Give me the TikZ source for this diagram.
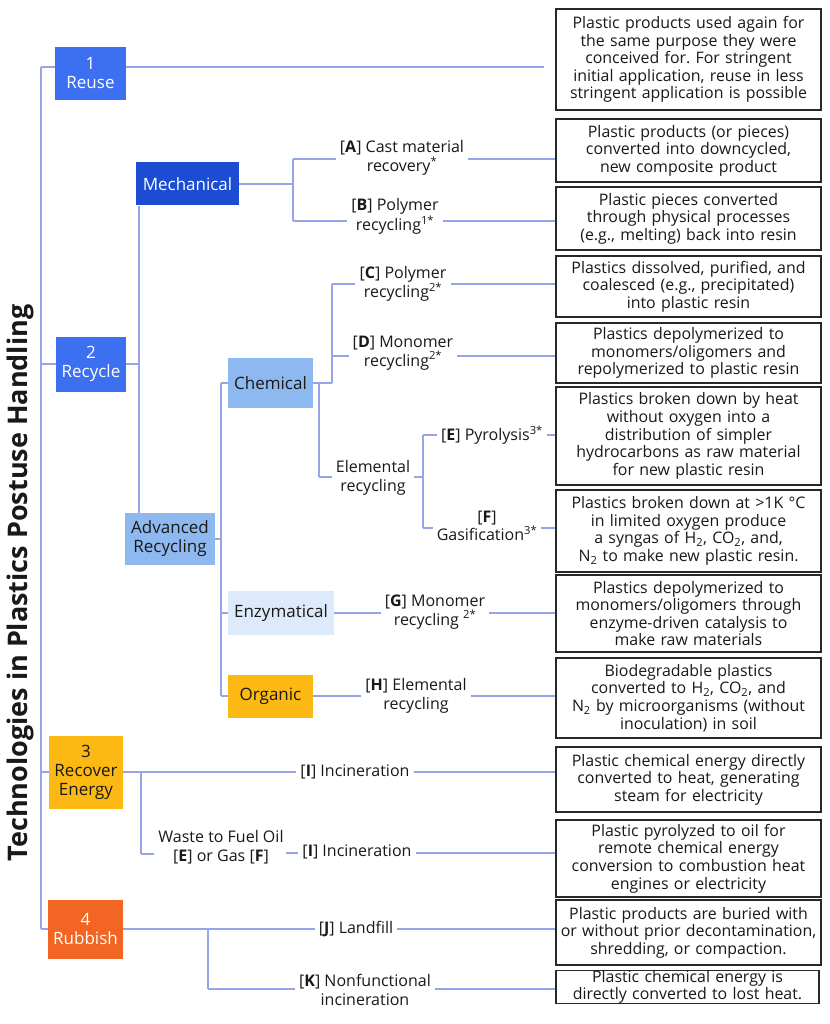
\documentclass[tikz,border=0pt]{standalone}
\usepackage{fontspec}
\setmainfont{Open Sans}
\usepackage{xcolor}
\usepackage{tikz}
\usetikzlibrary{positioning, calc}
\definecolor{PPBlue}{RGB}{61, 112, 240}
\definecolor{PPDeepBlue}{RGB}{27, 76, 209}
\definecolor{PPSky}{RGB}{141, 184, 240}
\definecolor{PPIce}{RGB}{221, 234, 251}
\definecolor{PPAmber}{RGB}{253, 185, 19}
\definecolor{PPOrange}{RGB}{242, 101, 34}
\definecolor{PPLink}{RGB}{152, 164, 232}
\definecolor{PPBorder}{RGB}{40, 40, 40}
\definecolor{PPText}{RGB}{25, 25, 25}
\frenchspacing

\begin{document}
\begin{tikzpicture}[x=1pt,y=-1pt,
  link/.style={PPLink, line width=1.6pt},
  descbox/.style={draw=PPBorder, line width=1.1pt, align=center, inner sep=0pt,
    minimum width=265pt, text width=262pt, text=PPText,
    font=\fontsize{15.9}{17.6}\selectfont},
  catbox/.style={align=center, inner sep=0pt, font=\fontsize{17}{19}\selectfont},
  lbl/.style={align=center, inner sep=4pt, text=PPText, font=\fontsize{16}{18.5}\selectfont}]
  \path[use as bounding box] (0,0) rectangle (829,1024);
  \fill[white] (0,0) rectangle (829,1024);

  \node[rotate=90, text=PPText, font=\fontsize{27}{31}\selectfont\bfseries] (title) at (20,583)
    {Technologies in Plastics Postuse Handling};

  % categories
  \node[catbox, fill=PPBlue, text=white, minimum width=71pt, minimum height=53pt] (reuse) at (90.5,73.5) {1\\Reuse};
  \node[catbox, fill=PPBlue, text=white, minimum width=70pt, minimum height=55pt] (recyc) at (91,364) {2\\Recycle};
  \node[catbox, fill=PPAmber, text=PPText, minimum width=74pt, minimum height=73pt] (recov) at (86,772) {3\\Recover\\Energy};
  \node[catbox, fill=PPOrange, text=white, minimum width=75pt, minimum height=59pt] (rubb) at (85.5,929) {4\\Rubbish};
  \node[catbox, fill=PPDeepBlue, text=white, minimum width=103pt, minimum height=43pt] (mech) at (187.5,184) {Mechanical};
  \node[catbox, fill=PPSky, text=PPText, minimum width=90pt, minimum height=52pt] (adv) at (170,539) {Advanced\\Recycling};
  \node[catbox, fill=PPSky, text=PPText, minimum width=85pt, minimum height=50pt] (chem) at (270.5,383) {Chemical};
  \node[catbox, fill=PPIce, text=PPText, minimum width=106pt, minimum height=44pt] (enz) at (281,613) {Enzymatical};
  \node[catbox, fill=PPAmber, text=PPText, minimum width=85pt, minimum height=43pt] (org) at (270.5,696) {Organic};

  % process labels
  \node[lbl] (lA) at (402,158) {[\textbf{A}] Cast material\\recovery\textsuperscript{*}};
  \node[lbl] (lB) at (395,216.5) {[\textbf{B}] Polymer\\recycling\textsuperscript{1*}};
  \node[lbl] (lC) at (403,284) {[\textbf{C}] Polymer\\recycling\textsuperscript{2*}};
  \node[lbl] (lD) at (403,353) {[\textbf{D}] Monomer\\recycling\textsuperscript{2*}};
  \node[lbl] (lEl) at (373,478) {Elemental\\recycling};
  \node[lbl] (lE) at (492,435) {[\textbf{E}] Pyrolysis\textsuperscript{3*}};
  \node[lbl] (lF) at (487,526) {[\textbf{F}]\\Gasification\textsuperscript{3*}};
  \node[lbl] (lG) at (435,612) {[\textbf{G}] Monomer\\recycling \textsuperscript{2*}};
  \node[lbl] (lH) at (416,696) {[\textbf{H}] Elemental\\recycling};
  \node[lbl] (lI) at (355,772) {[\textbf{I}] Incineration};
  \node[lbl] (lW) at (221,847) {Waste to Fuel Oil\\[0pt][\textbf{E}] or Gas [\textbf{F}]};
  \node[lbl] (lIb) at (357,852) {[\textbf{I}] Incineration};
  \node[lbl] (lJ) at (356,929) {[\textbf{J}] Landfill};
  \node[lbl] (lK) at (365,990) {[\textbf{K}] Nonfunctional\\incineration};

  % descriptions
  \node[descbox, minimum height=101pt] (d1) at (688.5,59.5) {Plastic products used again for\\the same purpose they were\\conceived for. For stringent\\initial application, reuse in less\\stringent application is possible};
  \node[descbox, minimum height=63pt] (dA) at (688.5,150.5) {Plastic products (or pieces)\\converted into downcycled,\\new composite product};
  \node[descbox, minimum height=63pt] (dB) at (688.5,218.5) {Plastic pieces converted\\through physical processes\\(e.g., melting) back into resin};
  \node[descbox, minimum height=61pt] (dC) at (688.5,286.5) {Plastics dissolved, purified, and\\coalesced (e.g., precipitated)\\into plastic resin};
  \node[descbox, minimum height=60pt] (dD) at (688.5,353) {Plastics depolymerized to\\monomers/oligomers and\\repolymerized to plastic resin};
  \node[descbox, minimum height=98pt] (dE) at (688.5,436) {Plastics broken down by heat\\without oxygen into a\\distribution of simpler\\hydrocarbons as raw material\\for new plastic resin};
  \node[descbox, minimum height=82pt] (dF) at (688.5,531) {Plastics broken down at >1K °C\\in limited oxygen produce\\a syngas of H\textsubscript{2}, CO\textsubscript{2}, and,\\N\textsubscript{2} to make new plastic resin.};
  \node[descbox, minimum height=77pt] (dG) at (688.5,613.5) {Plastics depolymerized to\\monomers/oligomers through\\enzyme-driven catalysis to\\make raw materials};
  \node[descbox, minimum height=80pt] (dH) at (688.5,698) {Biodegradable plastics\\converted to H\textsubscript{2}, CO\textsubscript{2}, and\\N\textsubscript{2} by microorganisms (without\\inoculation) in soil};
  \node[descbox, minimum height=65pt] (dI) at (688.5,779.5) {Plastic chemical energy directly\\converted to heat, generating\\steam for electricity};
  \node[descbox, minimum height=77pt] (dIb) at (688.5,858.5) {Plastic pyrolyzed to oil for\\remote chemical energy\\conversion to combustion heat\\engines or electricity};
  \node[descbox, minimum height=65pt] (dJ) at (688.5,932.5) {Plastic products are buried with\\or without prior decontamination,\\shredding, or compaction.};
  \node[descbox, minimum height=33pt, minimum width=263pt] (dK) at (687.5,987) {Plastic chemical energy is\\directly converted to lost heat.};

  % junctions
  \coordinate (trTop) at (41,67);
  \coordinate (jRec) at (139,364);
  \coordinate (jMech) at (293,184);
  \coordinate (jChem) at (332,383);
  \coordinate (jEl) at (319,477);
  \coordinate (jElR) at (423,477);
  \coordinate (jAdv) at (221,539);
  \coordinate (jRecov) at (141,772);
  \coordinate (jW) at (141,854);
  \coordinate (jRubb) at (208,929);
  \coordinate (rA) at (293,159);
  \coordinate (rB) at (293,221);
  \coordinate (rC) at (332,284);
  \coordinate (rD) at (332,356);
  \coordinate (rE) at (423,435);
  \coordinate (rF) at (423,528);
  \coordinate (rG) at (enz.east);
  \coordinate (rH) at (org.east);
  \coordinate (rI) at (recov.east);
  \coordinate (rIb) at (286,853);
  \coordinate (rJ) at (rubb.east);
  \coordinate (rK) at (208,989);

  % trunk
  \draw[link] (trTop) -- (trTop |- rubb.west);
  \draw[link] (trTop) -- (trTop -| reuse.west);
  \draw[link] (trTop -| reuse.east) -- ($(trTop -| d1.west)+(-11,0)$);
  \foreach \n in {recyc, recov, rubb}{
    \draw[link] (trTop |- \n.west) -- (\n.west);
  }

  % recycle tree
  \draw[link] (recyc.east) -- (jRec);
  \draw[link] (jRec |- mech.south) -- (jRec |- adv.north);
  \draw[link] (mech.east) -- (jMech);
  \draw[link] (rA) -- (rB);
  \draw[link] (adv.east) -- (jAdv);
  \draw[link] (jAdv |- chem.west) -- (jAdv |- org.west);
  \foreach \n in {chem, enz, org}{
    \draw[link] (jAdv |- \n.west) -- (\n.west);
  }
  \draw[link] (chem.east) -- (jChem);
  \draw[link] (jChem) -- (rC);
  \draw[link] (jEl |- chem.east) -- (jEl);
  \draw[link] (jEl) -- (jEl -| lEl.west);
  \draw[link] (jElR -| lEl.east) -- (jElR);
  \draw[link] (rE) -- (rF);

  % energy and rubbish
  \draw[link] (jRecov) -- (jW);
  \draw[link] (jW) -- (jW -| lW.west);
  \draw[link] (jRubb) -- (rK);

  % rows into the descriptions
  \foreach \r/\l/\d in {rA/lA/dA, rB/lB/dB, rC/lC/dC, rD/lD/dD, rE/lE/dE, rF/lF/dF,
      rG/lG/dG, rH/lH/dH, rI/lI/dI, rIb/lIb/dIb, rJ/lJ/dJ, rK/lK/dK}{
    \draw[link] (\r) -- (\r -| \l.west);
    \draw[link] (\r -| \l.east) -- (\r -| \d.west);
  }
\end{tikzpicture}
\end{document}
